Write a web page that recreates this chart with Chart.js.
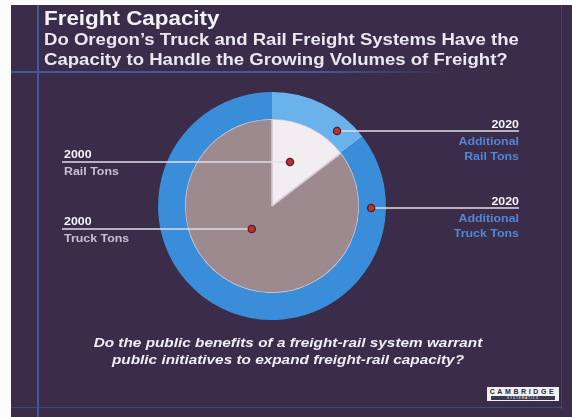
<!DOCTYPE html>
<html>
<head>
<meta charset="utf-8">
<script src="https://cdn.jsdelivr.net/npm/chart.js@4/dist/chart.umd.min.js"></script>
<style>
  body { margin:0; width:572px; height:417px; overflow:hidden; position:relative; background:#fbfbfb; font-family:"Liberation Sans", Arial, sans-serif; }
  #slide { position:absolute; left:11px; top:5px; width:561px; height:412px; background:#3b2c4a; }
  .rule { position:absolute; background:#3d5a9e; }
  #chart { position:absolute; left:0; top:0; }
  .txt { position:absolute; white-space:nowrap; font-weight:bold; transform-origin:0 0; }
  #title { left:44px; top:8px; font-size:20px; line-height:20px; color:#f4f2f6; transform:scaleX(1.12); }
  #subtitle { left:44px; top:30px; font-size:16px; line-height:20px; color:#ebe7f0; transform:scaleX(1.16); }
  #question { left:0; width:576px; top:334px; font-size:13px; line-height:17px; font-style:italic; text-align:center; color:#f1eef4; transform-origin:288px 0; transform:scaleX(1.18); }
  #logo { position:absolute; left:487px; top:387px; width:72px; height:14px; background:#f0f0f2; }
  #logo .a { position:absolute; left:0; top:1px; width:72px; text-align:center; font-size:7px; font-weight:bold; letter-spacing:2.6px; color:#2a2a35; }
  #logo .b { position:absolute; left:4px; top:9px; width:64px; height:4px; background:#3a3a48; font-size:3px; line-height:4px; color:#fff; text-align:center; letter-spacing:1px; }
</style>
</head>
<body>
<div id="slide"></div>
<div class="rule" style="left:37px;top:5px;width:2px;height:412px;"></div>
<div class="rule" style="left:11px;top:71px;width:440px;height:2px;background:linear-gradient(to right,#3d5a9e 70%,rgba(61,90,158,0));"></div>
<div class="rule" style="left:561px;top:5px;width:1px;height:404px;opacity:.5;"></div>
<div class="rule" style="left:11px;top:407px;width:551px;height:1px;opacity:.6;"></div>
<canvas id="chart" width="572" height="417"></canvas>
<div id="title" class="txt">Freight Capacity</div>
<div id="subtitle" class="txt">Do Oregon’s Truck and Rail Freight Systems Have the<br>Capacity to Handle the Growing Volumes of Freight?</div>
<div id="question" class="txt">Do the public benefits of a freight-rail system warrant<br>public initiatives to expand freight-rail capacity?</div>
<div id="logo"><div class="a">CAMBRIDGE</div><div class="b">SYSTEMATICS</div></div>
<script>
// share of tons by mode (percent)
const modes = ['Rail', 'Truck'];
const tons2000 = [14.6, 85.4];
const additional2020 = [14.6, 85.4];
const yearLabels = ['2000', '2020'];
const label2000 = ['Rail Tons', 'Truck Tons'];
const label2020 = [['Additional', 'Rail Tons'], ['Additional', 'Truck Tons']];

// where each call-out sits: dataset, slice, fraction along the arc, fraction across the ring
const callouts = [
  { ds: 1, idx: 0, t: 0.42, r: 0.55, side: 'left', edge: 62, year: yearLabels[0], lines: [label2000[0]] },
  { ds: 1, idx: 1, t: 0.55, r: 0.35, side: 'left', edge: 62, year: yearLabels[0], lines: [label2000[1]] },
  { ds: 0, idx: 0, t: 0.78, r: 0.45, side: 'right', edge: 519, year: yearLabels[1], lines: label2020[0] },
  { ds: 0, idx: 1, t: 0.125, r: 0.45, side: 'right', edge: 519, year: yearLabels[1], lines: label2020[1] }
];

const drawText = (ctx, txt, x, y, align, color) => {
  ctx.save();
  ctx.translate(x, y);
  ctx.scale(1.18, 1);
  ctx.font = 'bold 10.5px "Liberation Sans", Arial, sans-serif';
  ctx.fillStyle = color;
  ctx.textAlign = align;
  ctx.textBaseline = 'alphabetic';
  ctx.fillText(txt, 0, 0);
  ctx.restore();
};

const calloutPlugin = {
  id: 'callouts',
  afterDatasetsDraw(chart) {
    const ctx = chart.ctx;
    callouts.forEach(c => {
      const arc = chart.getDatasetMeta(c.ds).data[c.idx];
      const p = arc.getProps(['x', 'y', 'startAngle', 'endAngle', 'innerRadius', 'outerRadius'], true);
      const a = p.startAngle + c.t * (p.endAngle - p.startAngle);
      const rad = p.innerRadius + c.r * (p.outerRadius - p.innerRadius);
      const px = p.x + Math.cos(a) * rad;
      const py = Math.round(p.y + Math.sin(a) * rad);

      ctx.save();
      ctx.strokeStyle = '#e2dce6';
      ctx.lineWidth = 1.6;
      ctx.beginPath();
      ctx.moveTo(px, py);
      ctx.lineTo(c.edge, py);
      ctx.stroke();

      ctx.beginPath();
      ctx.arc(px, py, 3.6, 0, Math.PI * 2);
      ctx.fillStyle = '#bb3430';
      ctx.fill();
      ctx.lineWidth = 1.3;
      ctx.strokeStyle = '#561b26';
      ctx.stroke();
      ctx.restore();

      if (c.side === 'left') {
        drawText(ctx, c.year, c.edge + 2, py - 4, 'left', '#f6f4f8');
        drawText(ctx, c.lines[0], c.edge + 2, py + 13, 'left', '#c9c0ce');
      } else {
        drawText(ctx, c.year, c.edge, py - 3, 'right', '#f6f4f8');
        c.lines.forEach((s, i) => drawText(ctx, s, c.edge, py + 14 + i * 15, 'right', '#5385d4'));
      }
    });
  }
};

const config = {
  type: 'pie',
  data: {
    labels: modes,
    datasets: [
      {
        label: '2020 Additional',
        data: additional2020,
        backgroundColor: ['#69b2ec', '#3a8dd8'],
        borderWidth: 0,
        weight: 27
      },
      {
        label: '2000',
        data: tons2000,
        backgroundColor: ['#f1edf1', '#9c8a8f'],
        borderColor: '#d9ccd8',
        borderWidth: 1.5,
        weight: 87
      }
    ]
  },
  options: {
    responsive: false,
    animation: false,
    devicePixelRatio: 1,
    layout: { padding: { left: 158, right: 186, top: 91, bottom: 96 } },
    plugins: {
      legend: { display: false },
      tooltip: { enabled: false }
    }
  },
  plugins: [calloutPlugin]
};

new Chart(document.getElementById('chart'), config);
</script>
</body>
</html>
